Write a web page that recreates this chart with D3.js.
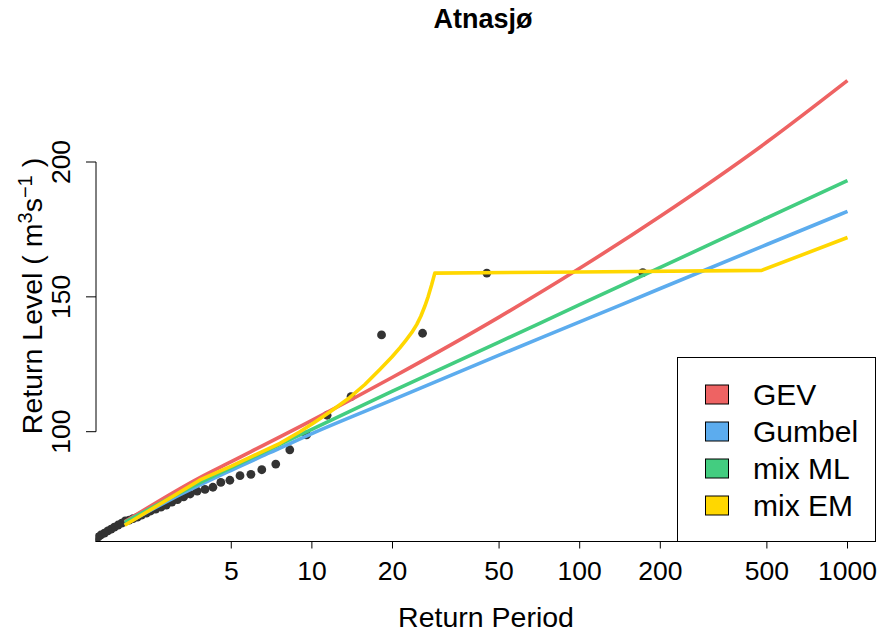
<!DOCTYPE html>
<html>
<head>
<meta charset="utf-8">
<script src="https://cdn.jsdelivr.net/npm/d3@7"></script>
<style>
  body { margin: 0; background: #fff; }
  text { font-family: "Liberation Sans", Arial, Helvetica, sans-serif; fill: #000; }
</style>
</head>
<body>
<div id="dataviz"></div>
<script>
// tick values on the axes
var periodTicks = [5, 10, 20, 50, 100, 200, 500, 1000];
var levelTicks = [100, 150, 200];

// observed annual maxima (return period, level)
var obsT = [172, 45, 25.9, 18.2, 14.0, 11.4, 9.55, 8.27, 7.33, 6.5, 5.92, 5.39, 4.94, 4.57, 4.27, 3.99,
            3.73, 3.51, 3.32, 3.15, 3.0, 2.86, 2.73, 2.61, 2.5, 2.41, 2.31, 2.23, 2.15, 2.08, 2.01,
            1.95, 1.89, 1.83, 1.78, 1.73, 1.68, 1.63, 1.59, 1.55, 1.51, 1.47, 1.44];
var obsQ = [159.0, 158.8, 136.5, 135.9, 113.0, 106.1, 98.8, 93.3, 88.0, 85.9, 84.2, 83.7, 82.0, 81.2, 79.4, 78.6,
            78.0, 76.9, 75.8, 74.8, 73.9, 72.8, 72.0, 71.3, 70.6, 69.8, 69.1, 68.3, 67.8, 67.2, 66.9,
            66.1, 65.4, 64.6, 63.9, 63.2, 62.4, 61.7, 60.9, 60.2, 59.6, 59.0, 58.5];

// fitted return level curves
var gevT = [2, 3.82, 5, 10, 20, 50, 100, 200, 500, 1000];
var gevQ = [66.6, 83.0, 88.9, 104.2, 120.2, 142.5, 160.6, 179.9, 207.4, 230.2];
var gumbelT = [2, 3, 5, 7, 10, 20, 50, 100, 200, 500, 1000];
var gumbelQ = [65.6, 75.1, 85.7, 92.3, 99.3, 111.8, 128.4, 140.7, 153.1, 169.4, 181.7];
var mixMlT = [2, 3.82, 5, 10, 20, 50, 100, 200, 500, 1000];
var mixMlQ = [66.4, 81.1, 86.7, 100.9, 115.0, 133.2, 147.1, 160.9, 179.3, 193.1];
var mixEmT = [2, 3.82, 5, 7.6, 8.28, 9.02, 10.11, 11.67, 13.86, 15.77, 17.94, 19.89, 21.3, 22.43,
              23.61, 24.65, 25.51, 26.4, 27.16, 27.97, 28.77, 100, 478, 1000];
var mixEmQ = [65.3, 82.1, 87.2, 95.7, 97.85, 100.0, 103.1, 107.3, 112.7, 117.5, 123.1, 127.7, 131.1, 133.9,
              136.8, 139.8, 142.8, 146.5, 150.0, 154.3, 158.8, 159.2, 159.8, 172.0];

var seriesNames = ["GEV", "Gumbel", "mix ML", "mix EM"];
var seriesColors = ["#EE6363", "#5CACEE", "#43CD80", "#FFD700"];

var W = 877, H = 640;

var svg = d3.select("#dataviz")
  .append("svg")
    .attr("width", W)
    .attr("height", H);

// plot region
var plotLeft = 95.5, plotRight = 876.5, plotTop = 62, plotBottom = 541.5;

var x = d3.scaleLog()
  .domain([2, 1000])
  .range([124.7, 847.5]);

var y = d3.scaleLinear()
  .domain([100, 200])
  .range([431.7, 162]);

svg.append("clipPath")
    .attr("id", "plotclip")
  .append("rect")
    .attr("x", plotLeft)
    .attr("y", plotTop)
    .attr("width", plotRight - plotLeft)
    .attr("height", plotBottom - plotTop);

var plot = svg.append("g").attr("clip-path", "url(#plotclip)");

function label(parent, px, py, str, size, anchor, rot, weight) {
  var t = parent.append("text")
    .attr("transform", "translate(" + px + "," + py + ")" + (rot ? " rotate(" + rot + ")" : ""))
    .attr("font-size", size)
    .attr("text-anchor", anchor || "middle")
    .attr("font-weight", weight || "normal")
    .text(str);
  return t;
}

// points
plot.selectAll(".obs")
  .data(obsT.map(function(t, i) { return {t: t, q: obsQ[i]}; }))
  .enter()
  .append("circle")
    .classed("obs", true)
    .attr("cx", function(d) { return x(d.t); })
    .attr("cy", function(d) { return y(d.q); })
    .attr("r", 4.4)
    .attr("fill", "#333333");

// curves
var smooth = d3.line()
  .x(function(d) { return x(d[0]); })
  .y(function(d) { return y(d[1]); })
  .curve(d3.curveMonotoneX);

var straight = d3.line()
  .x(function(d) { return x(d[0]); })
  .y(function(d) { return y(d[1]); });

var curves = [
  smooth(d3.zip(gevT, gevQ)),
  smooth(d3.zip(gumbelT, gumbelQ)),
  smooth(d3.zip(mixMlT, mixMlQ)),
  straight(d3.zip(mixEmT, mixEmQ))   // sharp corners on the EM curve
];

curves.forEach(function(d, i) {
  plot.append("path")
    .attr("d", d)
    .attr("fill", "none")
    .attr("stroke", seriesColors[i])
    .attr("stroke-width", 3.6)
    .attr("stroke-linejoin", "round");
});

// x axis
var xAxis = svg.append("g");
xAxis.append("line")
  .attr("x1", plotLeft).attr("x2", x(1000))
  .attr("y1", plotBottom).attr("y2", plotBottom)
  .attr("stroke", "#000");
periodTicks.forEach(function(v) {
  xAxis.append("line")
    .attr("x1", x(v)).attr("x2", x(v))
    .attr("y1", plotBottom).attr("y2", plotBottom + 7)
    .attr("stroke", "#000");
  label(xAxis, x(v), 580, v, 26.5);
});

// y axis
var yAxis = svg.append("g");
yAxis.append("line")
  .attr("x1", 96).attr("x2", 96)
  .attr("y1", y(100)).attr("y2", y(200))
  .attr("stroke", "#000");
levelTicks.forEach(function(v) {
  yAxis.append("line")
    .attr("x1", 96).attr("x2", 86)
    .attr("y1", y(v)).attr("y2", y(v))
    .attr("stroke", "#000");
  label(yAxis, 70, y(v), v, 26.5, "middle", -90);
});

// axis titles
label(svg, 486, 627, "Return Period", 28.5);

var yl = label(svg, 42, 296, "", 28.5, "middle", -90);
yl.append("tspan").text("Return Level ( m");
yl.append("tspan").attr("dy", -10).attr("font-size", 20).text("3");
yl.append("tspan").attr("dy", 10).text("s");
yl.append("tspan").attr("dy", -10).attr("font-size", 20).text("\u22121");
yl.append("tspan").attr("dy", 10).text("  )");

// title
label(svg, 483, 28, "Atnasj\u00f8", 27, "middle", 0, "bold");

// legend
var legend = svg.append("g");
legend.append("rect")
  .attr("x", 677.5).attr("y", 357.5)
  .attr("width", 198).attr("height", 184)
  .attr("fill", "#fff")
  .attr("stroke", "#000");

seriesNames.forEach(function(name, i) {
  var cy = 394.5 + i * 37;
  legend.append("rect")
    .attr("x", 705.5).attr("y", cy - 9.5)
    .attr("width", 23).attr("height", 19)
    .attr("fill", seriesColors[i])
    .attr("stroke", "#000");
  label(legend, 753, cy + 10, name, 30, "start");
});
</script>
</body>
</html>
